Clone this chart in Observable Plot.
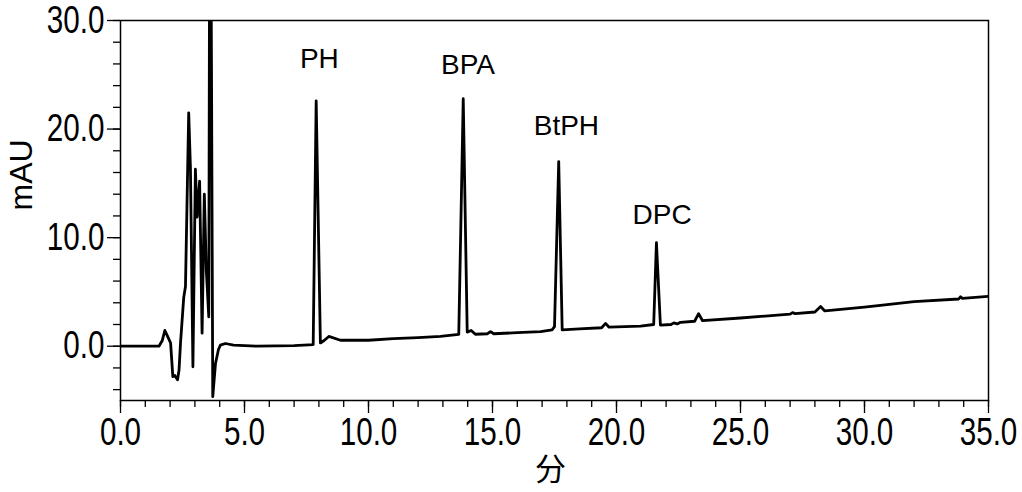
<!DOCTYPE html>
<html>
<head>
<meta charset="utf-8">
<script src="https://cdn.jsdelivr.net/npm/d3@7"></script>
<script src="https://cdn.jsdelivr.net/npm/@observablehq/plot@0.6"></script>
<style>
  html, body { margin: 0; padding: 0; background: #fff; }
  #chart svg { display: block; }
</style>
</head>
<body>
<div id="chart"></div>
<script>
// Retention time (min)
const time = [0, 1.55, 1.68, 1.79, 1.9, 2.02, 2.11, 2.19, 2.30, 2.36, 2.42, 2.55, 2.62, 2.75, 2.82, 2.92,
  3.02, 3.09, 3.19, 3.29, 3.38, 3.46, 3.56, 3.60, 3.63, 3.67, 3.72, 3.83, 3.95, 4.03, 4.23, 4.56,
  5.5, 7.0, 7.77, 7.89, 8.06, 8.2, 8.4, 8.87, 10, 11, 12, 12.9, 13.64, 13.82, 13.98, 14.14, 14.31,
  14.8, 14.92, 15.05, 16, 16.94, 17.4, 17.5, 17.67, 17.81, 18.5, 19.4, 19.56, 19.7, 20.97, 21.5,
  21.61, 21.77, 22.2, 22.31, 22.45, 22.58, 23.15, 23.31, 23.47, 25, 27.0, 27.1, 27.2, 28.0, 28.23,
  28.4, 30, 32, 33.8, 33.87, 33.95, 35];
// Detector signal (mAU)
const signal = [0, 0, 0.5, 1.45, 0.9, 0.3, -2.8, -2.7, -3.1, -2.2, 0.3, 4.5, 5.5, 21.5, 16.4, -1.9,
  16.3, 11.9, 15.2, 1.2, 14.0, 7.0, 2.7, 45, 45, 25, -4.65, -1.6, -0.3, 0.1, 0.25, 0.1,
  0.0, 0.05, 0.15, 22.6, 0.3, 0.5, 0.9, 0.55, 0.55, 0.7, 0.8, 0.9, 1.1, 22.8, 1.3, 1.45, 1.1,
  1.15, 1.35, 1.15, 1.25, 1.35, 1.5, 1.8, 17.0, 1.5, 1.6, 1.7, 2.1, 1.75, 1.85, 2.0,
  9.55, 1.95, 2.0, 2.15, 2.05, 2.2, 2.3, 3.0, 2.35, 2.6, 2.95, 3.1, 3.0, 3.15, 3.65,
  3.25, 3.6, 4.1, 4.35, 4.55, 4.4, 4.6];

// Peak labels
const peakNames = ["PH", "BPA", "BtPH", "DPC"];
const peakLabelTime = [8.02, 14.01, 17.98, 21.84];
const peakLabelY = [25.6, 25.1, 19.5, 11.26];

// Axis ticks
const xMajorTicks = [0, 5, 10, 15, 20, 25, 30, 35];
const xMinorTicks = d3.range(0, 36, 1);
const yMajorTicks = [0, 10, 20, 30];
const yMinorTicks = [-4, -2, 0, 2, 4, 6, 8, 10, 12, 14, 16, 18, 20, 22, 24, 26, 28, 30];
const xLabel = "分";
const yLabel = "mAU";

const trace = time.map((t, i) => ({t, v: signal[i]}));
const peaks = peakNames.map((name, i) => ({name, t: peakLabelTime[i], v: peakLabelY[i]}));

const textFont = "'Liberation Sans', Arial, sans-serif";

const chart = Plot.plot({
  width: 1022,
  height: 492,
  marginLeft: 120,
  marginRight: 34,
  marginTop: 20,
  marginBottom: 92,
  style: {fontFamily: textFont, color: "#000", background: "#fff"},
  x: {domain: [0, 35]},
  y: {domain: [-5, 30]},
  marks: [
    Plot.axisX({ticks: xMinorTicks, tickSize: 7, text: null, strokeWidth: 1.3, label: null}),
    Plot.axisX({ticks: xMajorTicks, tickSize: 13, tickPadding: 5, tickFormat: d3.format(".1f"),
      fontSize: 38, fontFamily: textFont, strokeWidth: 1.3, label: null}),
    Plot.axisY({ticks: yMinorTicks, tickSize: 7, text: null, strokeWidth: 1.3, label: null}),
    Plot.axisY({ticks: yMajorTicks, tickSize: 13, tickPadding: 3, tickFormat: d3.format(".1f"),
      fontSize: 38, fontFamily: textFont, strokeWidth: 1.3, label: null}),
    Plot.frame({stroke: "#000", strokeWidth: 1.5}),
    Plot.line(trace, {x: "t", y: "v", stroke: "#000", strokeWidth: 2.8, strokeLinejoin: "round", clip: true}),
    Plot.text(peaks, {x: "t", y: "v", text: "name", lineAnchor: "bottom", fontSize: 28, fontFamily: textFont, fill: "#000"}),
    Plot.text([xLabel], {frameAnchor: "bottom", dy: 70, dx: -4, lineAnchor: "middle", fontSize: 31,
      fontFamily: "'Noto Sans CJK SC', sans-serif", fill: "#000"}),
    Plot.text([yLabel], {frameAnchor: "left", dx: -99, rotate: -90, lineAnchor: "middle", fontSize: 32,
      fontFamily: textFont, fill: "#000"})
  ]
});
// condensed look of the tick numbers (horizontal squeeze of the label glyphs)
d3.select(chart)
  .selectAll('g[aria-label="x-axis tick label"] text, g[aria-label="y-axis tick label"] text')
  .attr("transform", function () { return (this.getAttribute("transform") || "") + " scale(0.78,1)"; });
document.getElementById("chart").appendChild(chart);
</script>
</body>
</html>
